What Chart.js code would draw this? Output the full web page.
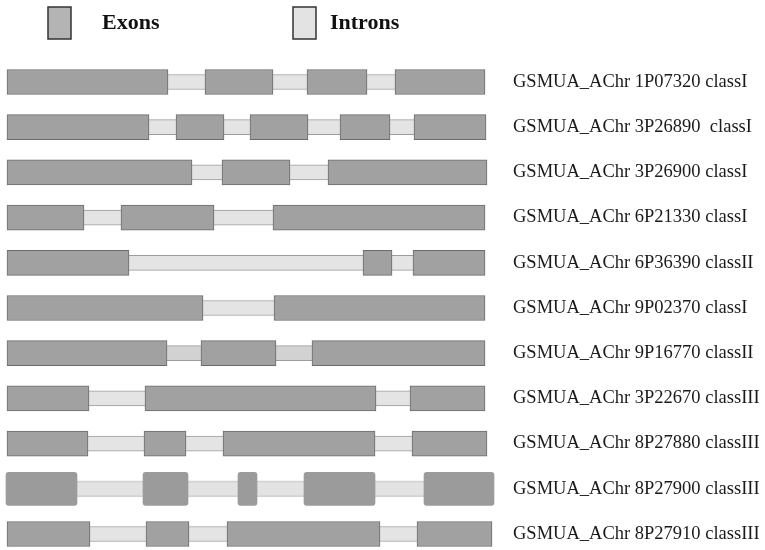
<!DOCTYPE html>
<html>
<head>
<meta charset="utf-8">
<script src="https://cdn.jsdelivr.net/npm/chart.js@4.4.0/dist/chart.umd.min.js"></script>
<style>
 body{margin:0;background:#fff;}
 #wrap{width:765px;height:550px;}
</style>
</head>
<body>
<div id="wrap"><canvas id="gene-chart"></canvas></div>
<script>
const genes = [
  'GSMUA_AChr 1P07320 classI',
  'GSMUA_AChr 3P26890  classI',
  'GSMUA_AChr 3P26900 classI',
  'GSMUA_AChr 6P21330 classI',
  'GSMUA_AChr 6P36390 classII',
  'GSMUA_AChr 9P02370 classI',
  'GSMUA_AChr 9P16770 classII',
  'GSMUA_AChr 3P22670 classIII',
  'GSMUA_AChr 8P27880 classIII',
  'GSMUA_AChr 8P27900 classIII',
  'GSMUA_AChr 8P27910 classIII'
];

// boundaries along each gene: exon | intron | exon | intron ...
const bounds = [
  [0,161,198,266,300,360,388,478],
  [0,142,169,217,243,301,333,383,407,479],
  [0,185,215,283,321,480],
  [0,77,114,207,266,478],
  [0,122,356,385,406,478],
  [0,196,267,478],
  [0,160,194,269,305,478],
  [0,82,138,369,403,478],
  [0,81,137,179,216,368,405,480],
  [-1,70,136,181,231,250,297,368,417,487],
  [0,83,139,182,220,373,410,485]
];

const legendLabels = ['Exons', 'Introns'];
const tallRow = 9;      // this gene is drawn with rounded, taller boxes
const darkIntronRow = 6;

function segment(i, k, intron){
  let b = bounds[i];
  let s = intron ? 2*k+1 : 2*k;
  if (s + 1 >= b.length) return null;
  return [b[s], b[s+1]];
}

function drawChart(){
  let datasets = [];
  let maxExons = Math.max(...bounds.map(b => b.length / 2));

  for (let k = 0; k < maxExons; k++){
    datasets.push({
      label: 'Exons',
      data: genes.map((g, i) => i === tallRow ? null : segment(i, k, false)),
      backgroundColor: '#a1a1a1',
      borderColor: '#6b6b6b',
      borderWidth: 1,
      borderSkipped: false,
      barThickness: 25,
      order: 0
    });
    datasets.push({
      label: 'Exons',
      data: genes.map((g, i) => i === tallRow ? segment(i, k, false) : null),
      backgroundColor: '#9b9b9b',
      borderWidth: 0,
      borderRadius: 3,
      borderSkipped: false,
      barThickness: 33,
      order: 0
    });
    datasets.push({
      label: 'Introns',
      data: genes.map((g, i) => i === tallRow ? null : segment(i, k, true)),
      backgroundColor: ctx => ctx.dataIndex === darkIntronRow ? '#d2d2d2' : '#e4e4e4',
      borderColor: '#9c9c9c',
      borderWidth: {top: 1, bottom: 1, left: 0, right: 0},
      borderSkipped: false,
      barThickness: 15,
      order: 1
    });
    datasets.push({
      label: 'Introns',
      data: genes.map((g, i) => i === tallRow ? segment(i, k, true) : null),
      backgroundColor: '#e3e3e3',
      borderColor: '#d3d3d3',
      borderWidth: {top: 2, bottom: 2, left: 0, right: 0},
      borderSkipped: false,
      barThickness: 16,
      order: 1
    });
  }

  const legendPlugin = {
    id: 'geneLegend',
    afterDraw(chart){
      const c = chart.ctx;
      const boxes = [
        {x: 48, fill: '#b4b4b4', tx: 102},
        {x: 293, fill: '#e3e3e3', tx: 330}
      ];
      c.save();
      boxes.forEach((b, i) => {
        c.fillStyle = b.fill;
        c.fillRect(b.x, 7, 23, 32);
        c.strokeStyle = '#333';
        c.lineWidth = 1.5;
        c.strokeRect(b.x, 7, 23, 32);
        c.fillStyle = '#111';
        c.font = 'bold 22px "Liberation Serif", serif';
        c.textBaseline = 'alphabetic';
        c.fillText(legendLabels[i], b.tx, 29);
      });
      c.restore();
    }
  };

  new Chart(document.getElementById('gene-chart'), {
    type: 'bar',
    data: {
      labels: genes,
      datasets: datasets
    },
    options: {
      indexAxis: 'y',
      responsive: true,
      maintainAspectRatio: false,
      animation: false,
      grouped: false,
      clip: false,
      layout: {
        padding: {top: 82, bottom: 16, left: 6, right: 0}
      },
      plugins: {
        legend: {display: false},
        tooltip: {enabled: false}
      },
      scales: {
        x: {
          display: false,
          min: -1,
          max: 493
        },
        y: {
          position: 'right',
          offset: false,
          grid: {display: false, drawTicks: false},
          border: {display: false},
          afterFit: s => {
            s.width = 265;
            s.paddingTop = 0;
            s.paddingBottom = 0;
          },
          ticks: {
            autoSkip: false,
            padding: 13,
            color: '#1a1a1a',
            font: {family: '"Liberation Serif", serif', size: 18.5}
          }
        }
      }
    },
    plugins: [legendPlugin]
  });
}

drawChart();
</script>
</body>
</html>
